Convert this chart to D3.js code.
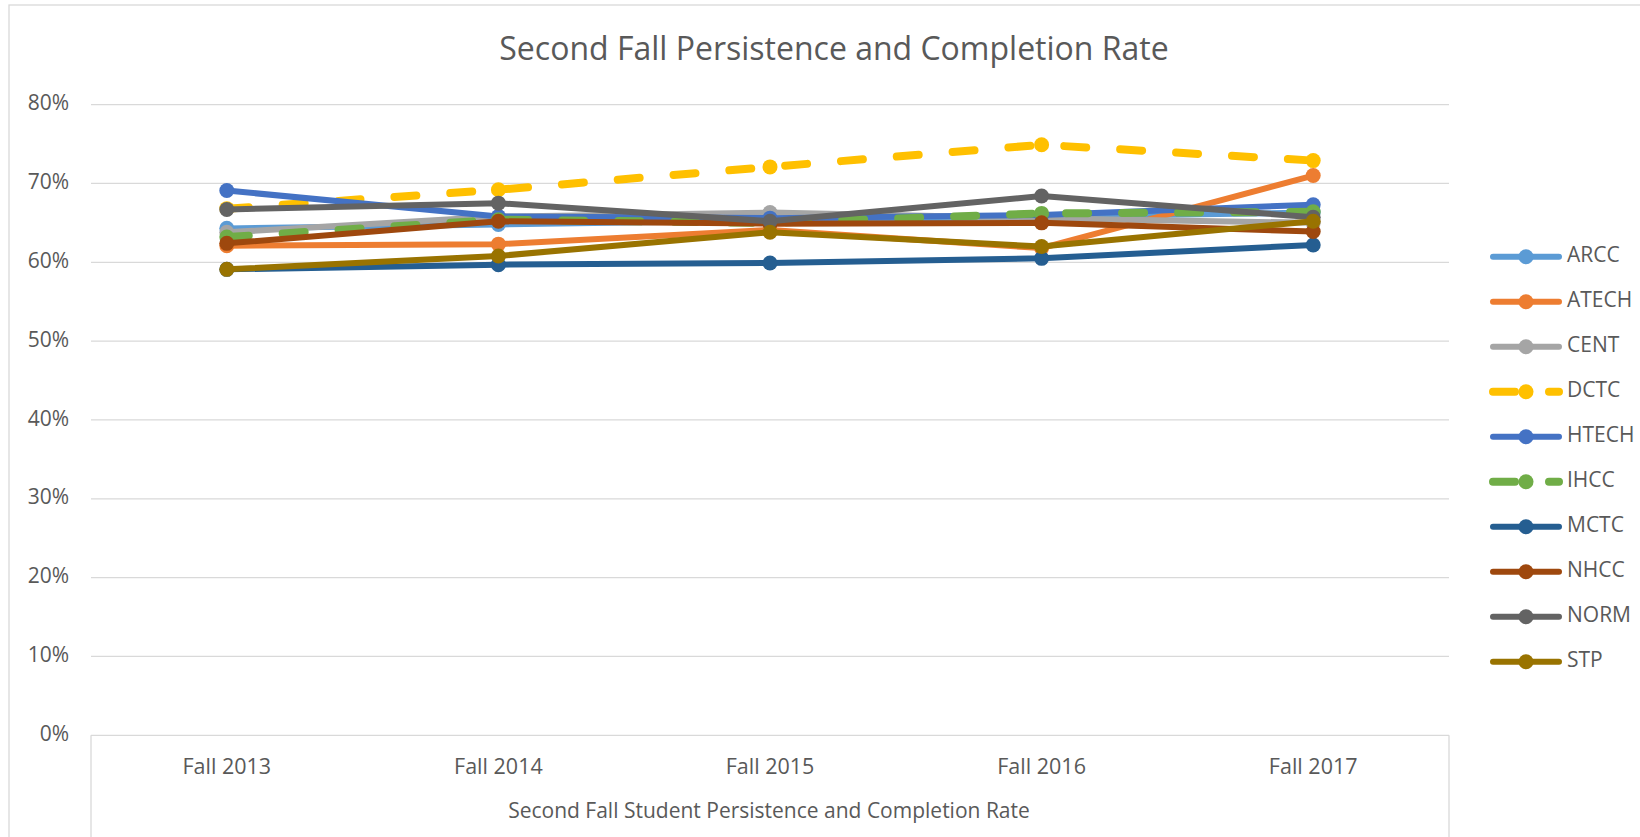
<!DOCTYPE html>
<html>
<head>
<meta charset="utf-8">
<script src="https://cdn.jsdelivr.net/npm/d3@7"></script>
<style>
  body { margin: 0; background: #fff; }
  svg { display: block; font-family: "Open Sans", sans-serif; }
</style>
</head>
<body>
<svg id="chart"></svg>
<script>
// categories and series values
const categories = ["Fall 2013", "Fall 2014", "Fall 2015", "Fall 2016", "Fall 2017"];
const yTicks = [0, 0.1, 0.2, 0.3, 0.4, 0.5, 0.6, 0.7, 0.8];

const ARCC = [0.643, 0.648, 0.653, 0.658, 0.663];
const ATECH = [0.621, 0.623, 0.641, 0.618, 0.710];
const CENT = [0.638, 0.658, 0.663, 0.656, 0.650];
const DCTC = [0.668, 0.692, 0.721, 0.749, 0.729];
const HTECH = [0.691, 0.658, 0.656, 0.660, 0.673];
const IHCC = [0.632, 0.654, 0.650, 0.662, 0.664];
const MCTC = [0.591, 0.597, 0.599, 0.605, 0.622];
const NHCC = [0.624, 0.652, 0.649, 0.650, 0.639];
const NORM = [0.667, 0.675, 0.652, 0.684, 0.657];
const STP = [0.591, 0.608, 0.638, 0.620, 0.652];

const series = [
  { name: "ARCC", values: ARCC, color: "#5B9BD5" },
  { name: "ATECH", values: ATECH, color: "#ED7D31" },
  { name: "CENT", values: CENT, color: "#A5A5A5" },
  { name: "DCTC", values: DCTC, color: "#FFC000", dashed: true },
  { name: "HTECH", values: HTECH, color: "#4472C4" },
  { name: "IHCC", values: IHCC, color: "#70AD47", dashed: true },
  { name: "MCTC", values: MCTC, color: "#255E91" },
  { name: "NHCC", values: NHCC, color: "#9E480E" },
  { name: "NORM", values: NORM, color: "#636363" },
  { name: "STP", values: STP, color: "#997300" },
];

const width = 1640;
const height = 837;
const plot = { left: 91, right: 1449, top: 104.6, bottom: 735.3 };
const textColor = "#595959";
const gridColor = "#d9d9d9";

const $svg = d3.select("#chart").attr("width", width).attr("height", height);

// outer chart border
$svg.append("rect")
  .attr("x", 9)
  .attr("y", 5)
  .attr("width", width)
  .attr("height", height)
  .attr("fill", "none")
  .attr("stroke", gridColor)
  .attr("stroke-width", 1.3);

// title
$svg.append("text")
  .attr("x", 834)
  .attr("y", 51)
  .attr("text-anchor", "middle")
  .attr("dominant-baseline", "middle")
  .attr("fill", textColor)
  .style("font-size", "32px")
  .text("Second Fall Persistence and Completion Rate");

const x = d3.scaleBand().domain(categories).range([plot.left, plot.right]).padding(0);
const y = d3.scaleLinear().domain([0, 0.8]).range([plot.bottom, plot.top]);
const cx = (c) => x(c) + x.bandwidth() / 2;

// gridlines
$svg.append("g")
  .selectAll("line")
  .data(yTicks)
  .enter()
  .append("line")
  .attr("x1", plot.left)
  .attr("x2", plot.right)
  .attr("y1", (d) => y(d))
  .attr("y2", (d) => y(d))
  .attr("stroke", gridColor)
  .attr("stroke-width", 1.3);

// y tick labels
$svg.append("g")
  .selectAll("text")
  .data(yTicks)
  .enter()
  .append("text")
  .attr("x", 69)
  .attr("y", (d) => y(d))
  .attr("text-anchor", "end")
  .attr("dominant-baseline", "middle")
  .attr("fill", textColor)
  .style("font-size", "21px")
  .text(d3.format(".0%"));

// category axis box sides
$svg.append("g")
  .selectAll("line")
  .data([plot.left, plot.right])
  .enter()
  .append("line")
  .attr("x1", (d) => d)
  .attr("x2", (d) => d)
  .attr("y1", plot.bottom)
  .attr("y2", height)
  .attr("stroke", gridColor)
  .attr("stroke-width", 1.3);

// x tick labels
$svg.append("g")
  .selectAll("text")
  .data(categories)
  .enter()
  .append("text")
  .attr("x", (d) => cx(d))
  .attr("y", 768)
  .attr("text-anchor", "middle")
  .attr("dominant-baseline", "middle")
  .attr("fill", textColor)
  .style("font-size", "21.5px")
  .text((d) => d);

// axis title
$svg.append("text")
  .attr("x", (plot.left + plot.right) / 2 - 1)
  .attr("y", 812)
  .attr("text-anchor", "middle")
  .attr("dominant-baseline", "middle")
  .attr("fill", textColor)
  .style("font-size", "21px")
  .text("Second Fall Student Persistence and Completion Rate");

// lines + markers
const line = d3.line()
  .x((d, i) => cx(categories[i]))
  .y((d) => y(d));

const $series = $svg.append("g")
  .selectAll("g")
  .data(series)
  .enter()
  .append("g");

$series.append("path")
  .attr("d", (d) => line(d.values))
  .attr("fill", "none")
  .attr("stroke", (d) => d.color)
  .attr("stroke-width", (d) => (d.dashed ? 8 : 6))
  .attr("stroke-linecap", "round")
  .attr("stroke-linejoin", "round")
  .attr("stroke-dasharray", (d) => (d.dashed ? "22,34" : null));

$series.selectAll("circle")
  .data((d) => d.values.map((v, i) => ({ v, i, color: d.color })))
  .enter()
  .append("circle")
  .attr("cx", (d) => cx(categories[d.i]))
  .attr("cy", (d) => y(d.v))
  .attr("r", 7.5)
  .attr("fill", (d) => d.color);

// legend
const legendTop = 256.7;
const legendStep = 45;
const $legend = $svg.append("g")
  .selectAll("g")
  .data(series)
  .enter()
  .append("g")
  .attr("transform", (d, i) => `translate(0,${legendTop + i * legendStep})`);

$legend.append("line")
  .attr("x1", 1493)
  .attr("x2", 1559)
  .attr("stroke", (d) => d.color)
  .attr("stroke-width", (d) => (d.dashed ? 8 : 6))
  .attr("stroke-linecap", "round")
  .attr("stroke-dasharray", (d) => (d.dashed ? "22,34" : null));

$legend.append("circle")
  .attr("cx", 1526)
  .attr("r", 7.5)
  .attr("fill", (d) => d.color);

$legend.append("text")
  .attr("x", 1567)
  .attr("dominant-baseline", "middle")
  .attr("fill", textColor)
  .style("font-size", "21px")
  .text((d) => d.name);
</script>
</body>
</html>
